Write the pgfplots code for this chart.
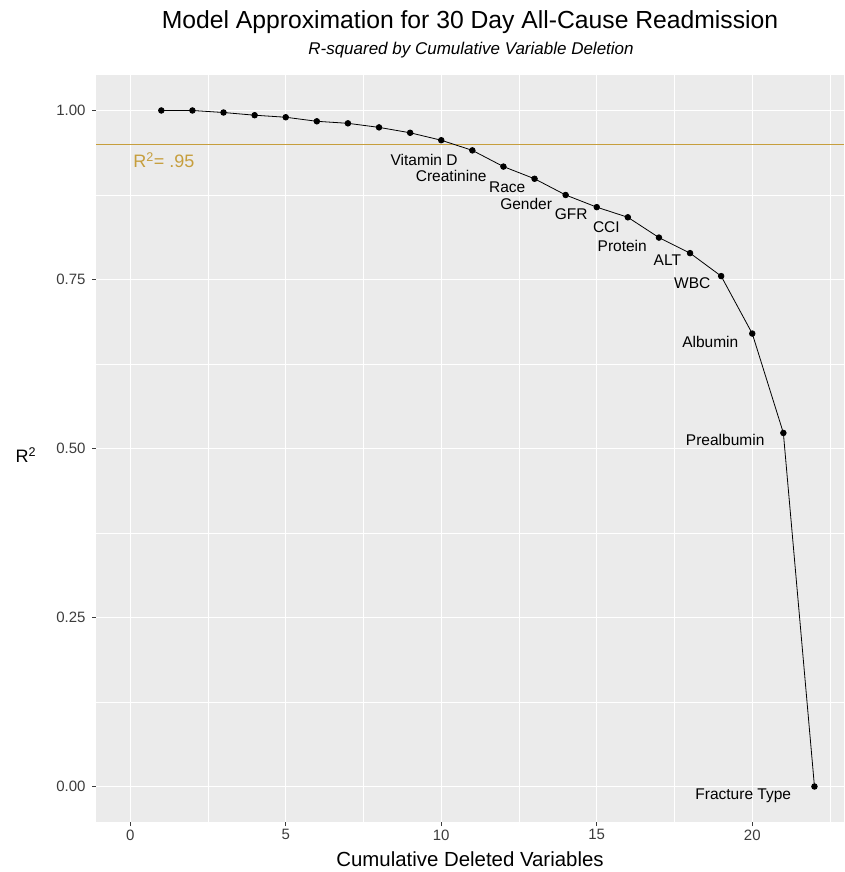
\documentclass[border=0pt]{standalone}
\usepackage{pgfplots}
\pgfplotsset{compat=1.18}
\usepackage{fontspec}
\setmainfont{Liberation Sans}
\definecolor{panel}{RGB}{235,235,235}
\definecolor{gold}{RGB}{198,158,60}
\definecolor{ticklab}{RGB}{60,60,60}
\begin{document}
\begin{tikzpicture}
\useasboundingbox (0pt,0pt) rectangle (844pt,872pt);
\begin{axis}[
  at={(96pt,50pt)}, anchor=south west,
  width=748pt, height=747pt, scale only axis,
  xmin=-1.1, xmax=22.95, ymin=-0.0525, ymax=1.0525,
  axis background/.style={fill=panel},
  axis line style={draw=none},
  xtick={0,5,10,15,20},
  ytick={0,0.25,0.5,0.75,1},
  minor xtick={2.5,7.5,12.5,17.5,22.5},
  minor ytick={0.125,0.375,0.625,0.875},
  grid=both,
  major grid style={white, line width=1.1pt},
  minor grid style={white, line width=0.55pt},
  tick pos=left, tick align=outside,
  major tick length=4pt, minor tick length=0pt,
  tick style={ticklab, line width=0.6pt},
  /pgf/number format/assume math mode=true,
  yticklabel style={/pgf/number format/fixed, /pgf/number format/fixed zerofill, /pgf/number format/precision=2, xshift=-3pt},
  tick label style={font=\fontsize{15}{18}\selectfont, text=ticklab},
  xlabel={Cumulative Deleted Variables},
  xlabel style={font=\fontsize{20.4}{24}\selectfont, yshift=-5pt},
  clip=false,
]
\addplot[gold, line width=1pt] coordinates {(-1.1,0.95) (22.95,0.95)};
\addplot[black, line width=0.8pt, mark=*, mark size=2.8pt] coordinates {
(1,1.000) (2,1.000) (3,0.997) (4,0.993) (5,0.990) (6,0.984) (7,0.981) (8,0.975)
(9,0.967) (10,0.956) (11,0.941) (12,0.917) (13,0.899) (14,0.875) (15,0.857)
(16,0.842) (17,0.812) (18,0.789) (19,0.755) (20,0.670) (21,0.523) (22,0.000)
};
\node[text=gold, font=\fontsize{18}{21}\selectfont] at (axis cs:1.08,0.926) {R\textsuperscript{2}= .95};
\begin{scope}[every node/.style={font=\fontsize{15.5}{18}\selectfont, inner sep=0pt}]
\node at (axis cs:9.45,0.9275) {Vitamin D};
\node at (axis cs:10.32,0.9038) {Creatinine};
\node at (axis cs:12.12,0.886) {Race};
\node at (axis cs:12.73,0.8624) {Gender};
\node at (axis cs:14.18,0.846) {GFR};
\node at (axis cs:15.31,0.828) {CCI};
\node at (axis cs:15.82,0.800) {Protein};
\node at (axis cs:17.27,0.778) {ALT};
\node at (axis cs:18.07,0.744) {WBC};
\node at (axis cs:18.65,0.658) {Albumin};
\node at (axis cs:19.13,0.513) {Prealbumin};
\node at (axis cs:19.71,-0.013) {Fracture Type};
\end{scope}
\end{axis}
\node[font=\fontsize{18}{21}\selectfont] at (26pt,417pt) {R\textsuperscript{2}};
\node[font=\fontsize{24.7}{29}\selectfont] at (470pt,850pt) {Model Approximation for 30 Day All-Cause Readmission};
\node[font=\fontsize{17}{20}\selectfont\itshape] at (471pt,822pt) {R-squared by Cumulative Variable Deletion};
\end{tikzpicture}
\end{document}
